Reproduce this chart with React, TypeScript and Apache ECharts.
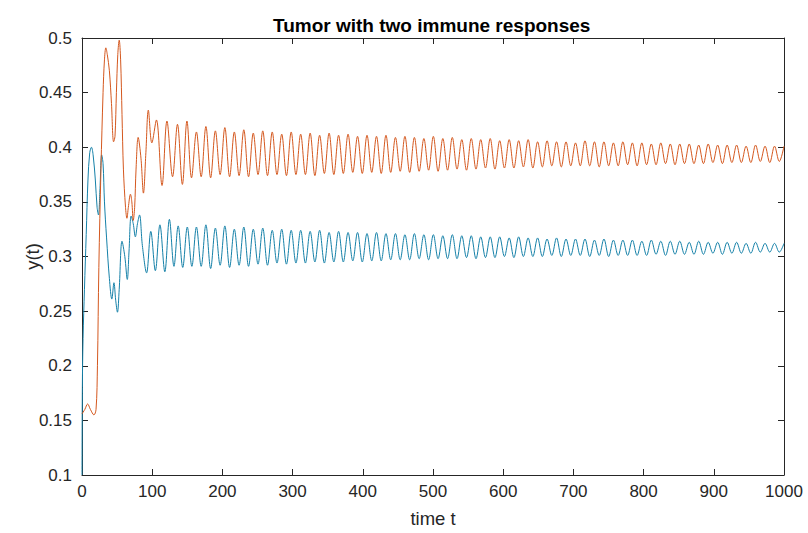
import React, { useEffect, useRef } from "react";
import * as echarts from "echarts";

// ---- Data ----
const titleText = "Tumor with two immune responses";
const xName = "time t";
const yName = "y(t)";
const xTicks = [0, 100, 200, 300, 400, 500, 600, 700, 800, 900, 1000];
const yTicks = [0.1, 0.15, 0.2, 0.25, 0.3, 0.35, 0.4, 0.45, 0.5];

// Transient phase [t, y]
const blueEarly: [number, number][] = [
  [0, 0.1], [0.5, 0.18], [1.5, 0.225], [3.5, 0.27], [6, 0.32], [8.5, 0.37], [11, 0.395],
  [13.5, 0.4], [16, 0.392], [19, 0.37], [21.5, 0.345], [23.5, 0.338], [25.5, 0.36],
  [28, 0.393], [30, 0.385], [32, 0.35], [35, 0.317], [39, 0.28], [42.5, 0.261],
  [45.5, 0.276], [48, 0.26], [50.5, 0.249], [53, 0.27], [57, 0.314], [61, 0.3],
  [64.5, 0.279], [67, 0.305], [70, 0.337], [73, 0.33], [76, 0.318], [79, 0.33],
  [82, 0.338], [86, 0.31], [92, 0.285], [98, 0.323], [104.5, 0.287], [111, 0.329],
  [118, 0.286], [124.5, 0.334], [131, 0.291], [137, 0.328], [143.5, 0.29], [150, 0.327],
  [156.5, 0.291],
];
const orangeEarly: [number, number][] = [
  [0, 0.156], [4, 0.16], [8, 0.165], [12, 0.16], [17, 0.155], [20, 0.16], [22, 0.2],
  [24, 0.29], [27, 0.38], [30, 0.45], [32, 0.48], [34, 0.491], [36, 0.485], [39, 0.47],
  [42, 0.44], [45, 0.405], [47, 0.41], [49, 0.45], [51, 0.485], [53, 0.498], [55, 0.48],
  [57, 0.43], [59, 0.38], [62, 0.345], [64, 0.335], [66, 0.345], [69, 0.357], [71, 0.35],
  [73, 0.333], [75, 0.345], [77, 0.38], [80, 0.409], [84, 0.39], [87.5, 0.358], [91, 0.395],
  [94.5, 0.434], [99.5, 0.404], [106, 0.425], [114, 0.365], [121, 0.424], [129, 0.373],
  [136, 0.421], [143, 0.366], [149.5, 0.424], [156, 0.372],
];

// Sustained oscillation: times of peaks and troughs
const peakTimes = [
  163, 176.5, 190, 203.5, 217, 230.5, 244, 257.5, 271, 284.5, 298,
  311.5, 325, 338.5, 352, 365.5, 379, 392.5, 406, 419.5, 433,
  446.5, 460, 473.5, 487, 500.5, 514, 527.5, 541, 554.5, 568,
  581.5, 595, 608.5, 622, 635.5, 649, 662.5, 676, 689.5, 703,
  716.5, 730, 743.5, 757, 770.5, 784, 797.5, 811, 824.5, 838,
  851.5, 865, 878.5, 892, 905.5, 919, 932.5, 946, 959.5, 973, 986.5, 1000,
];
const troughTimes = [
  169.75, 183.25, 196.75, 210.25, 223.75, 237.25, 250.75, 264.25, 277.75, 291.25, 304.75,
  318.25, 331.75, 345.25, 358.75, 372.25, 385.75, 399.25, 412.75, 426.25, 439.75,
  453.25, 466.75, 480.25, 493.75, 507.25, 520.75, 534.25, 547.75, 561.25, 574.75,
  588.25, 601.75, 615.25, 628.75, 642.25, 655.75, 669.25, 682.75, 696.25, 709.75,
  723.25, 736.75, 750.25, 763.75, 777.25, 790.75, 804.25, 817.75, 831.25, 844.75,
  858.25, 871.75, 885.25, 898.75, 912.25, 925.75, 939.25, 952.75, 966.25, 979.75, 993.25,
];
const orangePeaks = [
  0.414, 0.419, 0.415, 0.418, 0.414, 0.416, 0.413, 0.415, 0.414, 0.412, 0.414,
  0.412, 0.413, 0.411, 0.413, 0.411, 0.412, 0.41, 0.411, 0.41, 0.411,
  0.409, 0.41, 0.409, 0.408, 0.41, 0.408, 0.409, 0.407, 0.408, 0.407,
  0.408, 0.406, 0.407, 0.406, 0.407, 0.405, 0.406, 0.405, 0.405, 0.404,
  0.406, 0.405, 0.405, 0.404, 0.405, 0.404, 0.404, 0.403, 0.404, 0.403,
  0.403, 0.403, 0.402, 0.403, 0.402, 0.402, 0.402, 0.401, 0.402, 0.401, 0.401, 0.401,
];
const orangeTroughs = [
  0.373, 0.372, 0.375, 0.373, 0.374, 0.373, 0.375, 0.374, 0.375, 0.374, 0.375,
  0.375, 0.374, 0.376, 0.375, 0.376, 0.377, 0.376, 0.377, 0.376, 0.377,
  0.378, 0.377, 0.378, 0.379, 0.378, 0.379, 0.38, 0.379, 0.38, 0.381,
  0.38, 0.381, 0.381, 0.382, 0.381, 0.382, 0.383, 0.382, 0.383, 0.383,
  0.383, 0.382, 0.383, 0.383, 0.384, 0.383, 0.384, 0.384, 0.385, 0.384,
  0.385, 0.385, 0.385, 0.386, 0.385, 0.386, 0.386, 0.386, 0.387, 0.386, 0.387,
];
const bluePeaks = [
  0.327, 0.329, 0.326, 0.328, 0.325, 0.327, 0.325, 0.326, 0.324, 0.325, 0.324,
  0.324, 0.323, 0.324, 0.322, 0.323, 0.322, 0.322, 0.321, 0.322, 0.321,
  0.321, 0.32, 0.321, 0.32, 0.32, 0.319, 0.32, 0.319, 0.319, 0.318,
  0.318, 0.318, 0.317, 0.318, 0.317, 0.317, 0.316, 0.317, 0.316, 0.316,
  0.316, 0.315, 0.316, 0.315, 0.315, 0.315, 0.314, 0.315, 0.314, 0.314,
  0.314, 0.313, 0.314, 0.313, 0.313, 0.313, 0.313, 0.312, 0.313, 0.312, 0.312, 0.312,
];
const blueTroughs = [
  0.291, 0.289, 0.292, 0.29, 0.292, 0.291, 0.293, 0.292, 0.294, 0.293, 0.294,
  0.294, 0.295, 0.294, 0.295, 0.295, 0.296, 0.295, 0.296, 0.296, 0.297,
  0.297, 0.297, 0.298, 0.297, 0.298, 0.298, 0.298, 0.299, 0.298, 0.299,
  0.299, 0.3, 0.299, 0.3, 0.3, 0.3, 0.301, 0.3, 0.301, 0.301,
  0.3, 0.301, 0.3, 0.301, 0.301, 0.301, 0.301, 0.302, 0.301, 0.302,
  0.302, 0.302, 0.302, 0.303, 0.302, 0.303, 0.303, 0.303, 0.304, 0.304, 0.304,
];

function buildSeries(
  early: [number, number][],
  peaks: number[],
  troughs: number[]
): [number, number][] {
  const out: [number, number][] = early.slice();
  for (let i = 0; i < peakTimes.length; i++) {
    out.push([peakTimes[i], peaks[i]]);
    if (i < troughTimes.length && i < troughs.length) out.push([troughTimes[i], troughs[i]]);
  }
  return out;
}

const FONT = "Liberation Sans, Arial, sans-serif";
const TEXT = "#262626";
const AXIS = "#262626";

export default function App() {
  const ref = useRef<HTMLDivElement>(null);
  useEffect(() => {
    if (!ref.current) return;
    const chart = echarts.init(ref.current, undefined, { renderer: "svg" });
    const fmt = (v: number) => String(Number(v.toFixed(2)));
    const baseX = {
      type: "value" as const,
      min: xTicks[0],
      max: xTicks[xTicks.length - 1],
      interval: 100,
      splitLine: { show: false },
      axisLine: { show: true, onZero: false, lineStyle: { color: AXIS, width: 1 } },
      axisTick: { show: true, inside: true, length: 6, lineStyle: { color: AXIS } },
    };
    const baseY = {
      type: "value" as const,
      min: yTicks[0],
      max: yTicks[yTicks.length - 1],
      interval: 0.05,
      splitLine: { show: false },
      axisLine: { show: true, onZero: false, lineStyle: { color: AXIS, width: 1 } },
      axisTick: { show: true, inside: true, length: 6, lineStyle: { color: AXIS } },
    };
    chart.setOption({
      animation: false,
      backgroundColor: "#ffffff",
      title: {
        text: titleText,
        left: 268,
        top: 11,
        textStyle: { fontFamily: FONT, fontSize: 19, fontWeight: "bold", color: "#000" },
      },
      grid: { left: 82, right: 24, top: 38, bottom: 56, containLabel: false },
      xAxis: [
        {
          ...baseX,
          position: "bottom",
          name: xName,
          nameLocation: "middle",
          nameGap: 34,
          nameMoveOverlap: false,
          nameTextStyle: { fontFamily: FONT, fontSize: 18.5, color: TEXT },
          axisLabel: { show: true, margin: 8, fontFamily: FONT, fontSize: 17, color: TEXT, formatter: fmt },
        },
        { ...baseX, position: "top", axisLabel: { show: false } },
      ],
      yAxis: [
        {
          ...baseY,
          position: "left",
          name: yName,
          nameLocation: "middle",
          nameGap: 40,
          nameMoveOverlap: false,
          nameTextStyle: { fontFamily: FONT, fontSize: 18.5, color: TEXT },
          axisLabel: { show: true, margin: 10, fontFamily: FONT, fontSize: 17, color: TEXT, formatter: fmt },
        },
        { ...baseY, position: "right", axisLabel: { show: false } },
      ],
      series: [
        {
          type: "line",
          name: "y1",
          xAxisIndex: 0,
          yAxisIndex: 0,
          data: buildSeries(blueEarly, bluePeaks, blueTroughs),
          showSymbol: false,
          smooth: 0.35,
          lineStyle: { color: "#1580a8", width: 1 },
          itemStyle: { color: "#1580a8" },
        },
        {
          type: "line",
          name: "y2",
          xAxisIndex: 0,
          yAxisIndex: 0,
          data: buildSeries(orangeEarly, orangePeaks, orangeTroughs),
          showSymbol: false,
          smooth: 0.35,
          lineStyle: { color: "#d4581f", width: 1 },
          itemStyle: { color: "#d4581f" },
        },
      ],
    });
    return () => chart.dispose();
  }, []);
  return (
    <div
      ref={ref}
      style={{ position: "fixed", left: 0, top: 0, width: 808, height: 533, background: "#fff" }}
    />
  );
}
